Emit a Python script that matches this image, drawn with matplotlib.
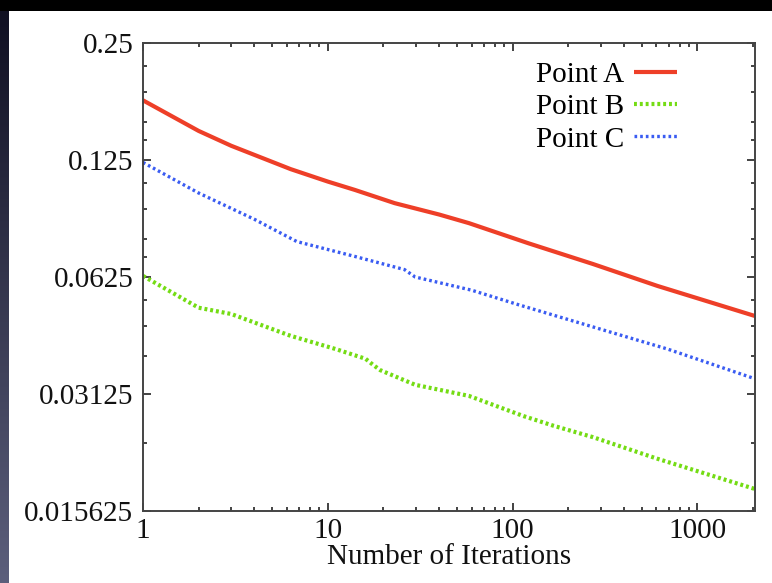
'''
Convergence of the three points vs. number of iterations (log-log)
'''

import numpy as np
import matplotlib.pyplot as plt
from matplotlib.ticker import FixedLocator, NullFormatter
from matplotlib.colors import LinearSegmentedColormap

# values
iters_a = [1, 2, 3, 6.3, 10, 14, 23, 40, 58, 122, 272, 606, 2048]
point_a = [0.178, 0.1485, 0.136, 0.1184, 0.110, 0.1047, 0.0968, 0.0905, 0.086, 0.0763, 0.0675, 0.0593, 0.0496]

iters_b = [1, 2, 3, 6.3, 11, 16, 17.5, 19.2, 29.7, 58, 115, 166, 272, 606, 2048]
point_b = [0.0629, 0.0521, 0.0502, 0.0441, 0.0408, 0.0385, 0.0372, 0.0360, 0.0330, 0.0309, 0.0274, 0.0259, 0.0242, 0.0213, 0.0178]

iters_c = [1, 2, 4, 6.8, 14, 26, 29.7, 60, 108, 272, 687, 2048]
point_c = [0.1232, 0.1028, 0.088, 0.0771, 0.0706, 0.0653, 0.0625, 0.0578, 0.0530, 0.0465, 0.0408, 0.0342]

series_labels = ['Point A', 'Point B', 'Point C']
y_ticks = [0.015625, 0.03125, 0.0625, 0.125, 0.25]
y_tick_labels = ['0.015625', '0.03125', '0.0625', '0.125', '0.25']
x_ticks = [1, 10, 100, 1000]
x_tick_labels = ['1', '10', '100', '1000']

plt.rcParams['font.family'] = ['Liberation Serif', 'DejaVu Serif']

fig = plt.figure(figsize=(7.72, 5.83), dpi=100)
fig.patch.set_facecolor('black')

# slide background: white page, dark bar at the top, gradient strip on the left
page = fig.add_axes([9/772, 0, 1 - 9/772, 1 - 11/583], zorder=-2)
page.set_facecolor('white')
page.set_xticks([])
page.set_yticks([])
for s in page.spines.values():
  s.set_visible(False)

strip = fig.add_axes([0, 0, 9/772, 1 - 11/583], zorder=-2)
grad = np.linspace(0, 1, 256).reshape(-1, 1)
cmap = LinearSegmentedColormap.from_list('strip', ['#101022', '#5c5f7c'])
strip.imshow(grad, aspect='auto', cmap=cmap, origin='upper')
strip.axis('off')

ax = fig.add_axes([143/772, 1 - 511/583, (755 - 143)/772, (511 - 43)/583])
ax.set_facecolor('white')

ax.plot(iters_a, point_a, color='#ee3f28', lw=3.0, solid_capstyle='butt', label=series_labels[0])
ax.plot(iters_b, point_b, color='#74dc14', lw=3.0, linestyle=(0, (0.7, 0.7)), label=series_labels[1])
ax.plot(iters_c, point_c, color='#3a5cf2', lw=2.4, linestyle=(0, (0.8, 0.9)), label=series_labels[2])

ax.set_xscale('log')
ax.set_yscale('log', base=2)
ax.set_xlim(1, 2048)
ax.set_ylim(0.015625, 0.25)

ax.xaxis.set_major_locator(FixedLocator(x_ticks))
ax.set_xticklabels(x_tick_labels)
ax.xaxis.set_minor_locator(FixedLocator([m * d for d in [1, 10, 100, 1000] for m in range(2, 10) if m * d < 2048]))
ax.xaxis.set_minor_formatter(NullFormatter())

ax.yaxis.set_major_locator(FixedLocator(y_ticks))
ax.set_yticklabels(y_tick_labels)
y_minor = [0.0625 * m for m in [1.125, 1.25, 1.5, 1.75]] + \
          [0.125 * m for m in [1.125, 1.25, 1.5, 1.75]] + \
          [0.03125 * m for m in [1.25, 1.5, 1.75]] + [0.015625 * 1.5]
ax.yaxis.set_minor_locator(FixedLocator(y_minor))
ax.yaxis.set_minor_formatter(NullFormatter())

ax.tick_params(which='both', direction='in', top=True, right=True, labelsize=21, colors='#222222', labelcolor='#111111', width=1.2)
ax.tick_params(which='major', length=6, pad=7)
ax.tick_params(which='minor', length=3)
ax.tick_params(axis='x', which='major', pad=5)
for s in ax.spines.values():
  s.set_color('#444444')
  s.set_linewidth(1.4)

ax.set_xlabel('Number of Iterations', fontsize=21, labelpad=0, color='#111111')

ax.legend(loc='upper right', bbox_to_anchor=(0.91, 1.01), frameon=False, markerfirst=False,
          fontsize=21, handlelength=1.45, handletextpad=0.35, labelspacing=0.2, borderpad=0.3)

fig.savefig('out.png', dpi=100, facecolor=fig.get_facecolor())
